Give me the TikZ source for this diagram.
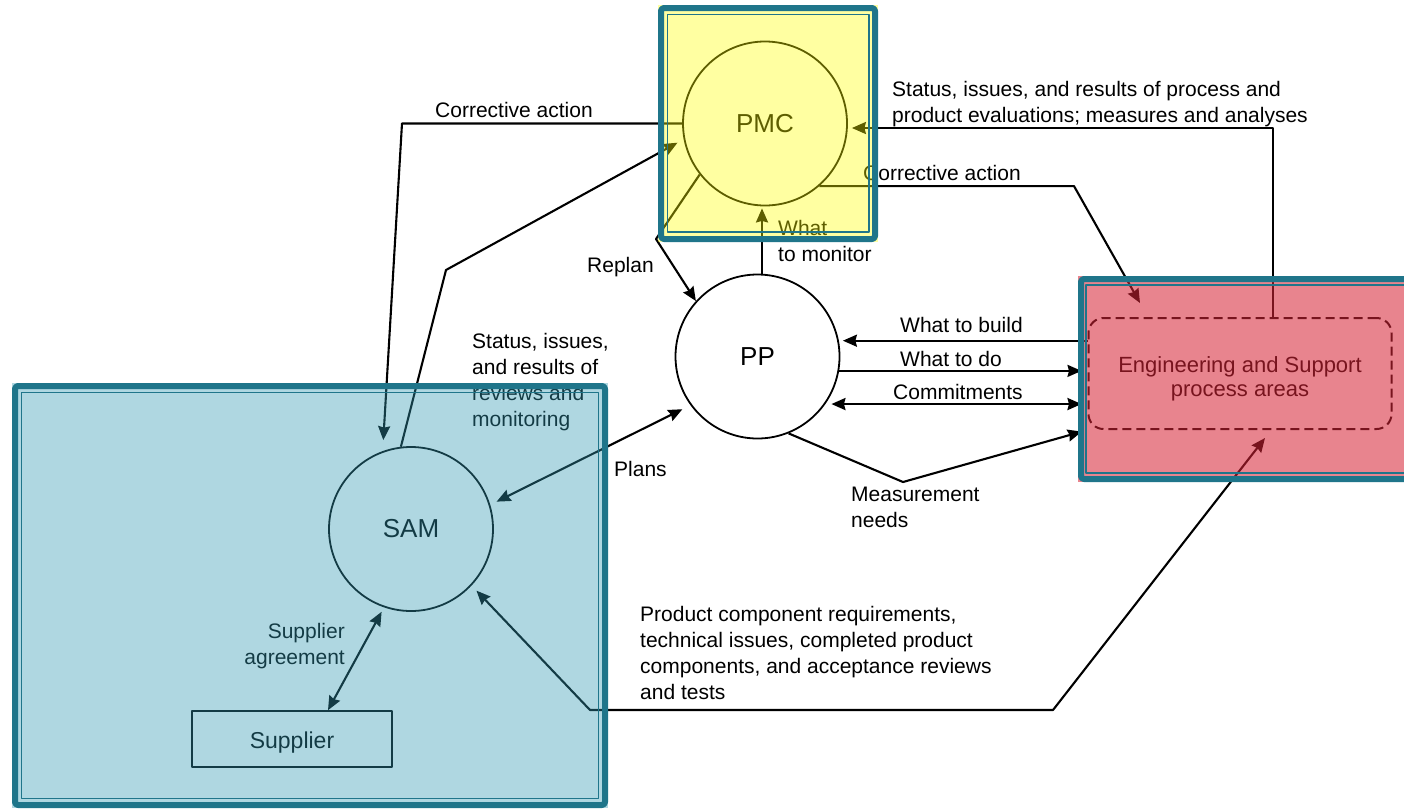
\documentclass[tikz,border=0pt]{standalone}
\usepackage{fontspec}
\setmainfont{Liberation Sans}
\usetikzlibrary{arrows.meta,calc}
\definecolor{frame}{RGB}{31,117,138}
\definecolor{ovblue}{RGB}{51,154,179}
\definecolor{ovyellow}{RGB}{255,255,0}
\definecolor{ovred}{RGB}{214,36,54}
\begin{document}
\begin{tikzpicture}[x=1pt,y=-1pt,line join=round,
  proc/.style={circle,draw,line width=1.8pt,minimum size=164pt,inner sep=0pt,
    font=\fontsize{26}{30}\selectfont},
  lbl/.style={inner sep=0pt,align=left,anchor=north west,
    font=\fontsize{21}{26}\selectfont},
  flow/.style={line width=2.1pt,-{Stealth[length=14pt,width=12pt,inset=1.5pt]}},
  flowboth/.style={line width=2.1pt,{Stealth[length=14pt,width=12pt,inset=1.5pt]}-{Stealth[length=14pt,width=12pt,inset=1.5pt]}},
  overlay frame/.style={draw=frame,line width=6pt,rounded corners=3pt},
  inner frame/.style={draw=frame,line width=1.2pt}]

% page
\useasboundingbox (0,0) rectangle (1404,809);
\fill[white] (0,0) rectangle (1404,809);

% process areas
\node[proc] (pmc) at (765,123.5) {PMC};
\node[proc] (pp)  at (757.5,356.5) {PP};
\node[proc] (sam) at (411,529) {SAM};
\node[draw,line width=1.6pt,minimum width=200pt,minimum height=56pt,inner sep=0pt,
  text height=24pt,text depth=5pt,
  font=\fontsize{23}{26}\selectfont] (sup) at (292,739) {Supplier};
\node[draw,line width=2pt,dash pattern=on 9pt off 5pt,rounded corners=15pt,
  minimum width=303pt,minimum height=111pt,inner sep=0pt,
  font=\fontsize{22}{24}\selectfont] (eng) at (1240,373.5)
  {\begin{tabular}{@{}c@{}}\rule{0pt}{28.5pt}Engineering and Support\\process areas\end{tabular}};

% bend points
\coordinate (caL) at (402,123.5);
\coordinate (stL) at (446,270);
\coordinate (rp)  at (656,239);
\coordinate (wm)  at (762,0);
\coordinate (stR) at (1273,128);
\coordinate (caR) at (1074,0);
\coordinate (caT) at (1140,303);
\coordinate (mn)  at (903,482);
\coordinate (prT) at (1265,438);
\coordinate (pr1) at (1053,710);
\coordinate (pr2) at (590,710);

% flows
\draw[flow,shorten >=11pt] (pmc.180) -- (caL) -- (sam.110);
\draw[flow,shorten >=7pt] (sam.97) -- (stL) -- (pmc.191);
\draw[flow] (pmc.218) -- (rp) -- (pp.138);
\draw[flow,shorten >=2pt] (pp.north -| wm) -- (pmc.south -| wm);
\draw[flow,shorten >=4pt] (eng.north -| stR) -- (stR) -- (stR -| pmc.east);
\draw[flow] (pmc.311) -- (pmc.311 -| caR) -- (caT);
\draw[flow,shorten >=4pt] (pp.11 -| eng.west) -- (pp.11);
\draw[flow,shorten >=6pt] (pp.-10) -- (pp.-10 -| eng.west);
\draw[flowboth,line width=2.5pt,shorten <=6pt,shorten >=6pt] (pp.-35) -- (pp.-35 -| eng.west);
\draw[flow,shorten >=6pt] (pp.-68) -- (mn) -- (eng.south west);
\draw[flowboth,shorten <=7pt,shorten >=9pt] (sam.17) -- (pp.216);
\draw[flowboth,shorten >=7pt] (prT) -- (pr1) -- (pr2) -- (sam.317);
\draw[flowboth,shorten <=5pt] (sam.251) -- ($(sup.north)+(36,0)$);

% flow labels
\node[lbl] (l1) at (435,102) {Corrective action};
\node[lbl] (l2) at (892,81) {Status, issues, and results of process and\\product evaluations; measures and analyses};
\node[lbl] (l3) at (863,165) {Corrective action};
\node[lbl] (l4) at (587,257) {Replan};
\node[lbl] (l5) at (778,220) {What\\to monitor};
\node[lbl] (l6) at (472,333) {Status, issues,\\and results of\\reviews and\\monitoring};
\node[lbl] (l7) at (900,317) {What to build};
\node[lbl] (l8) at (900,351) {What to do};
\node[lbl] (l9) at (893,384) {Commitments};
\node[lbl] (l10) at (614,461) {Plans};
\node[lbl] (l11) at (851,487) {Measurement\\needs};
\node[lbl] (l12) at (640,606) {Product component requirements,\\technical issues, completed product\\components, and acceptance reviews\\and tests};
\node[lbl,align=right,anchor=north east] (l13) at (345,623) {Supplier\\agreement};

% highlight panels
\fill[ovyellow,fill opacity=0.37] (658,5) rectangle (878,242);
\draw[overlay frame] (661,8) rectangle (875,239);
\draw[inner frame] (667.5,14.5) rectangle (869,232);

\fill[ovblue,fill opacity=0.39] (12,383) rectangle (608,808);
\draw[overlay frame] (15,386) rectangle (605,805);
\draw[inner frame] (21.5,392.5) rectangle (598.5,798.5);

\fill[ovred,fill opacity=0.56] (1078,276) rectangle (1420,482);
\draw[overlay frame] (1081,279) rectangle (1430,479);
\draw[inner frame] (1086,285) rectangle (1425,473);
\end{tikzpicture}
\end{document}
